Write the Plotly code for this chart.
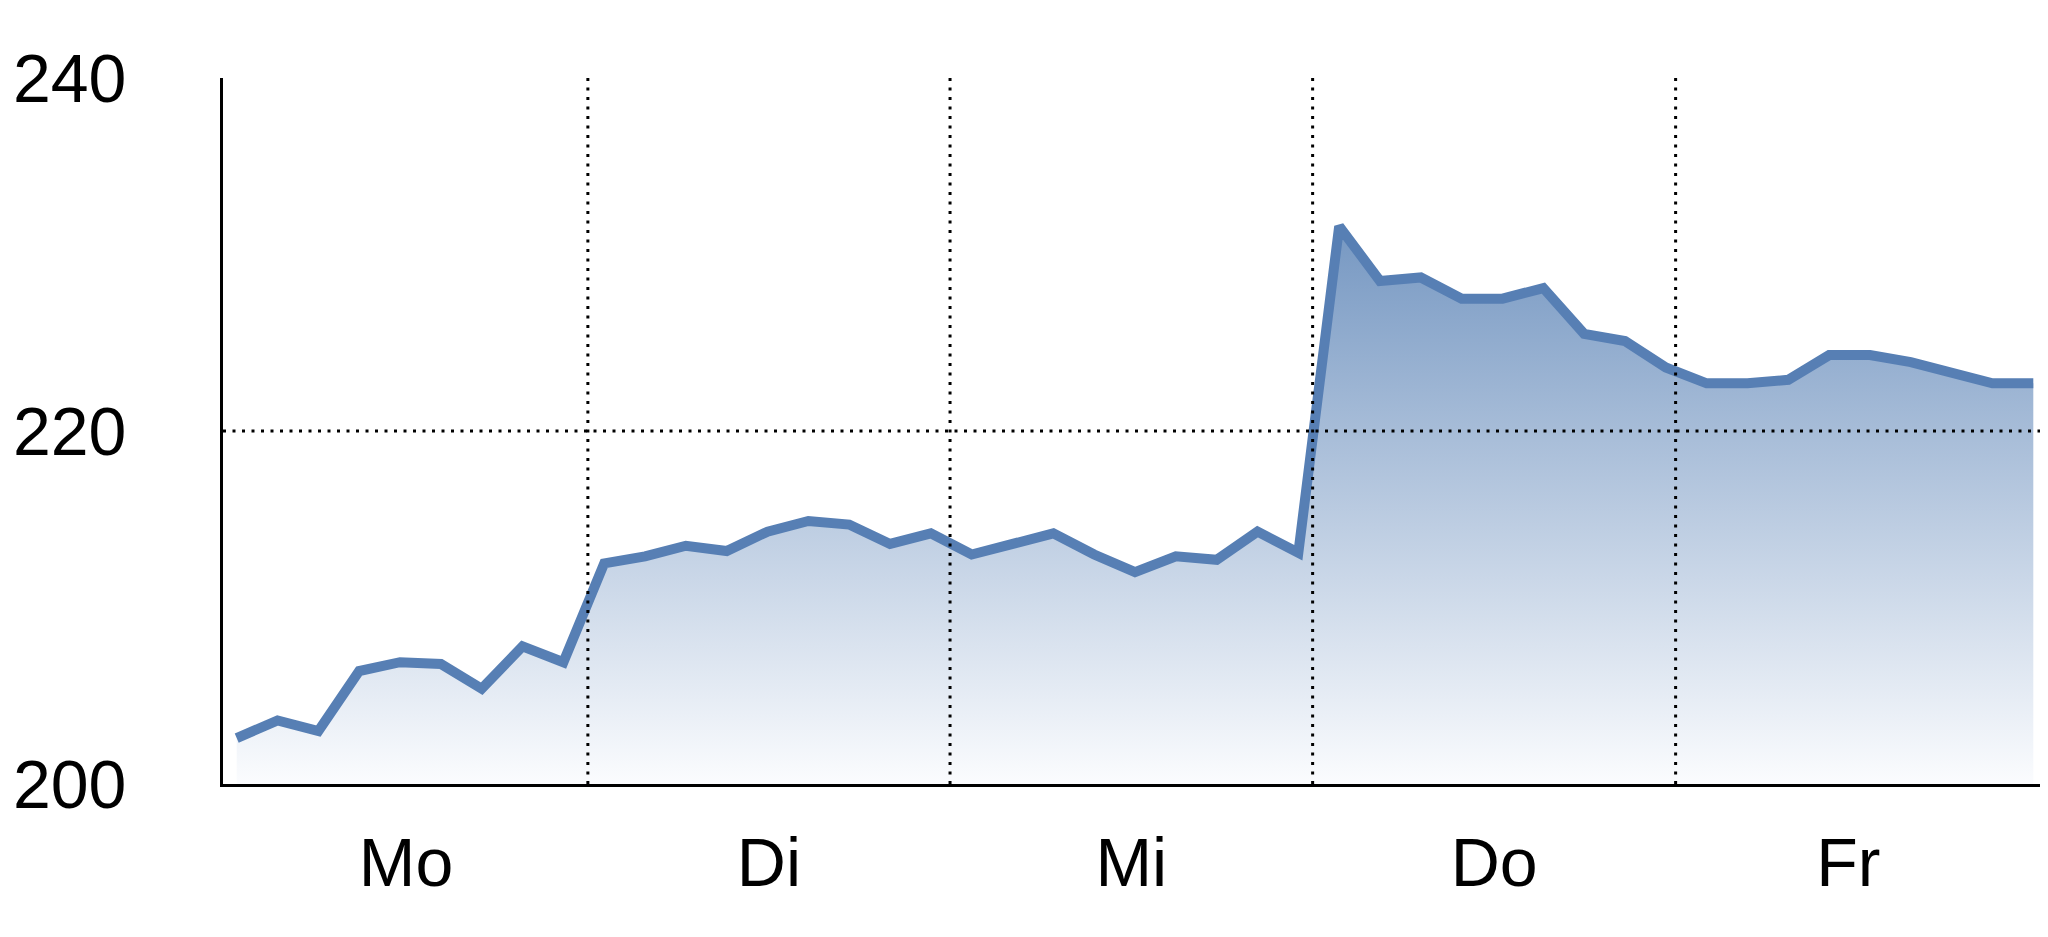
import plotly.graph_objects as go

# ---- data ----
values = [202.6, 203.6, 203.0, 206.4, 206.9, 206.8, 205.4, 207.8, 206.9,
          212.5, 212.9, 213.5, 213.2, 214.3, 214.9, 214.7, 213.6, 214.2,
          213.0, 213.6, 214.2, 213.0, 212.0, 212.9, 212.7, 214.3, 213.1,
          231.6, 228.5, 228.7, 227.5, 227.5, 228.1, 225.5, 225.1, 223.6,
          222.7, 222.7, 222.9, 224.3, 224.3, 223.9, 223.3, 222.7, 222.7]
x_idx = list(range(len(values)))
day_labels = ["Mo", "Di", "Mi", "Do", "Fr"]
day_bounds = [-0.31, 8.6, 17.47, 26.35, 35.24, 43.7]
y_ticks = [200, 220, 240]

day_centers = [(day_bounds[i] + day_bounds[i + 1]) / 2 for i in range(len(day_labels))]

FONT = "Liberation Sans Narrow, Arial Narrow, Liberation Sans, Arial, sans-serif"
LINE = "rgb(87,127,180)"

fig = go.Figure()
fig.add_trace(go.Scatter(
    x=x_idx, y=values, mode="lines",
    line=dict(color=LINE, width=10),
    fill="tozeroy",
    fillgradient=dict(type="vertical", start=200, stop=232,
                      colorscale=[[0, "rgb(251,252,254)"], [1, "rgb(116,150,193)"]]),
    hoverinfo="skip", showlegend=False,
))

shapes = []
for b in day_bounds[1:-1]:
    shapes.append(dict(type="line", xref="x", yref="paper", x0=b, x1=b, y0=0, y1=1,
                       line=dict(color="black", width=3, dash="3px,6.5px"), layer="above"))
shapes.append(dict(type="line", xref="paper", yref="y", x0=0, x1=1, y0=220, y1=220,
                   line=dict(color="black", width=3, dash="3px,6.5px"), layer="above"))

# page body has an 8px margin, so the figure is sized to fit the window
fig.update_layout(
    width=2040, height=929,
    margin=dict(l=215, r=0, t=70, b=153),
    paper_bgcolor="white", plot_bgcolor="white",
    font=dict(family=FONT, size=68, color="black"),
    shapes=shapes,
    xaxis=dict(range=[-0.336, 44.36], showgrid=False, zeroline=False,
               showline=True, linecolor="black", linewidth=3, automargin=False,
               tickvals=day_centers, ticktext=day_labels, ticks="",
               ticklabelstandoff=17),
    yaxis=dict(range=[200, 240], showgrid=False, zeroline=False,
               showline=True, linecolor="black", linewidth=3, automargin=False,
               tickvals=y_ticks, ticks="", ticklabelstandoff=80),
)

fig.write_html("out.html")
